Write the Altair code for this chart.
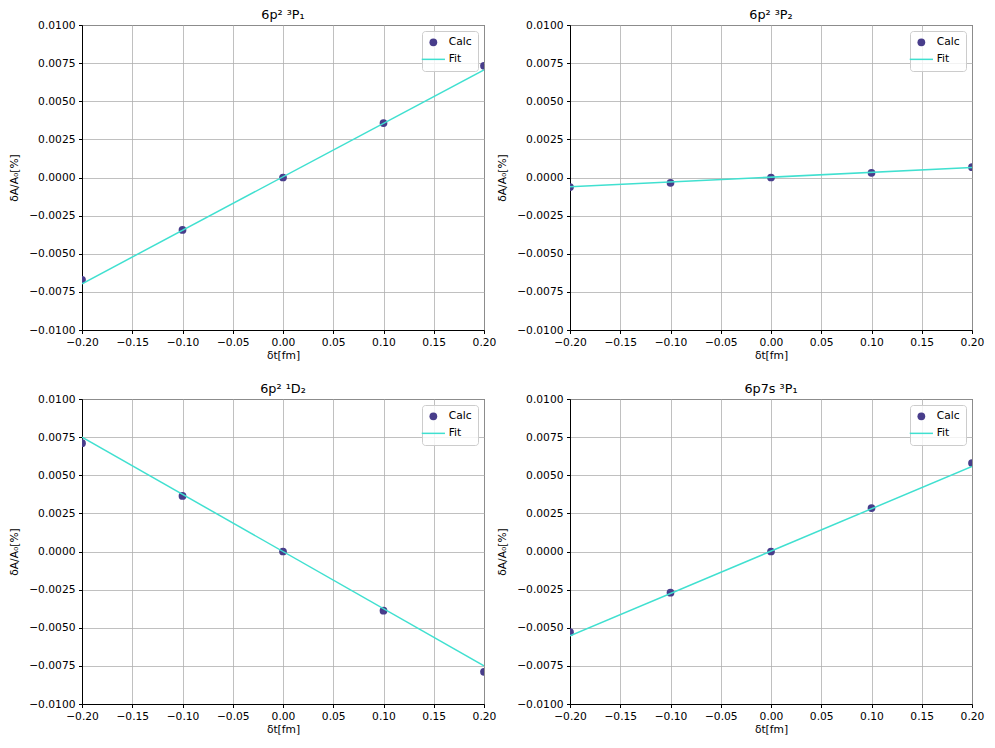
import altair as alt
import pandas as pd

# ---- data ----
x_vals = [-0.2, -0.1, 0.0, 0.1, 0.2]
panel_titles = ["6p² ³P₁", "6p² ³P₂", "6p² ¹D₂", "6p7s ³P₁"]
calc_1 = [-0.00671, -0.00344, 0.0, 0.00357, 0.00732]
calc_2 = [-0.00063, -0.00035, 0.0, 0.00031, 0.00068]
calc_3 = [0.00710, 0.00364, 0.0, -0.00388, -0.00789]
calc_4 = [-0.00529, -0.00270, 0.0, 0.00285, 0.00580]
fit_x = [-0.2, 0.2]
fit_1 = [-0.00697, 0.00706]
fit_2 = [-0.00061, 0.00065]
fit_3 = [0.00750, -0.00750]
fit_4 = [-0.00553, 0.00558]
series_names = ["Calc", "Fit"]
x_ticks = [-0.2, -0.15, -0.1, -0.05, 0.0, 0.05, 0.1, 0.15, 0.2]
y_ticks = [-0.01, -0.0075, -0.005, -0.0025, 0.0, 0.0025, 0.005, 0.0075, 0.01]

calc_all = [calc_1, calc_2, calc_3, calc_4]
fit_all = [fit_1, fit_2, fit_3, fit_4]

CALC_COLOR = "#483D8B"
FIT_COLOR = "#40E0D0"
FONT = "DejaVu Sans"
W, H = 402, 305
PT_SIZE = 60


def panel(i):
    calc = pd.DataFrame({"x": x_vals, "y": calc_all[i], "series": "Calc"})
    fit = pd.DataFrame({"x": fit_x, "y": fit_all[i], "series": "Fit"})
    X = alt.X("x:Q", scale=alt.Scale(domain=[-0.2, 0.2], nice=False, zero=False),
              axis=alt.Axis(values=x_ticks, format=".2f", title="δt[fm]"))
    Y = alt.Y("y:Q", scale=alt.Scale(domain=[-0.01, 0.01], nice=False, zero=False),
              axis=alt.Axis(values=y_ticks, format=".4f", title="δA/A₀[%]"))
    leg = alt.Legend(
        title=None, orient="top-right", offset=6, padding=6,
        fillColor="rgba(255,255,255,0.8)", strokeColor="#cccccc",
        cornerRadius=3, labelFontSize=10.7, labelFont=FONT, labelColor="black",
        rowPadding=3, labelOffset=10, symbolSize=PT_SIZE, symbolStrokeWidth=1.5,
        symbolOpacity=1,
    )
    fill = alt.Fill("series:N", scale=alt.Scale(domain=series_names,
                                                range=[CALC_COLOR, "transparent"]), legend=leg)
    shape = alt.Shape("series:N", scale=alt.Scale(domain=series_names,
                                                  range=["circle", "M-3,0L3,0"]), legend=leg)
    stroke = alt.Stroke("series:N", scale=alt.Scale(domain=series_names,
                                                    range=["transparent", FIT_COLOR]), legend=leg)
    pts = alt.Chart(calc).mark_point(filled=True, size=PT_SIZE, opacity=1, clip=True).encode(
        x=X, y=Y, fill=fill, shape=shape)
    line = alt.Chart(fit).mark_line(strokeWidth=1.5, clip=True).encode(x=X, y=Y, stroke=stroke)
    return alt.layer(pts, line).properties(
        width=W, height=H,
        title=alt.TitleParams(panel_titles[i], fontSize=12.8, font=FONT, frame="group",
                              fontWeight="normal", color="black", offset=-3),
    )


ind = dict(fill="independent", stroke="independent", shape="independent")
row1 = alt.hconcat(panel(0), panel(1), spacing=-1).resolve_scale(**ind)
row2 = alt.hconcat(panel(2), panel(3), spacing=-1).resolve_scale(**ind)
chart = alt.vconcat(row1, row2, spacing=21).resolve_scale(**ind)

chart = chart.configure(padding=0).configure_view(stroke="black", strokeWidth=1).configure_axis(
    domainColor="black", tickColor="black", tickSize=3.5, labelPadding=3.5,
    gridColor="#b0b0b0", gridWidth=0.8, labelFlush=False, labelOverlap=False,
    labelFont=FONT, labelFontSize=10.7, labelColor="black",
    titleFont=FONT, titleFontSize=10.7, titleFontWeight="normal", titleColor="black",
).configure_axisY(titlePadding=9).configure_axisX(titlePadding=4)

chart.save("out.html", embed_options={"renderer": "svg", "actions": False})
